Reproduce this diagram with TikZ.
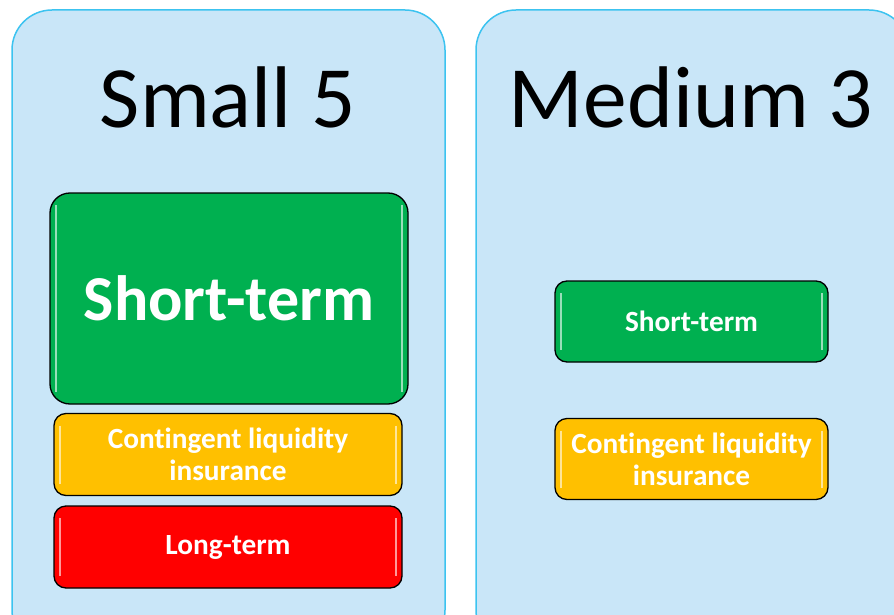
\documentclass[tikz,border=0pt]{standalone}
\usepackage{fontspec}
\setmainfont[Ligatures=CommonOff]{Carlito}
\definecolor{panelfill}{HTML}{C9E6F8}
\definecolor{panelline}{HTML}{3CC3F0}
\definecolor{termgreen}{HTML}{00B050}
\definecolor{termyellow}{HTML}{FFC000}
\definecolor{termred}{HTML}{FF0000}
\tikzset{
  panel/.style={draw=panelline, fill=panelfill, line width=1.5pt, rounded corners=40pt, minimum width=433pt, minimum height=640pt},
  title/.style={anchor=base, font=\fontsize{87.5}{88}\selectfont},
  glossy/.style={draw=black, line width=1.3pt, fill=#1, text=white, align=center, inner sep=0pt, rounded corners=12pt,
    path picture={\draw[white, opacity=0.6, line width=2.5pt]
      ([xshift=6pt,yshift=-12pt]path picture bounding box.north west) -- ([xshift=6pt,yshift=12pt]path picture bounding box.south west)
      ([xshift=-6pt,yshift=-12pt]path picture bounding box.north east) -- ([xshift=-6pt,yshift=12pt]path picture bounding box.south east);}},
  termbox/.style={glossy=#1, minimum width=348pt, minimum height=82pt, font=\bfseries\fontsize{29.3}{32}\selectfont},
  sidebox/.style={glossy=#1, minimum width=273pt, minimum height=81pt, font=\bfseries\fontsize{29.3}{32}\selectfont}
}
\begin{document}
\begin{tikzpicture}[x=1pt, y=-1pt]
\useasboundingbox (0,0) rectangle (894,615);
\clip (0,0) rectangle (894,615);
% the two groups
\node[panel] (small) at (228.5,330) {};
\node[panel] (medium) at (692.5,330) {};
\node[title] (smalltitle) at (228,128) {Small 5};
\node[title] (mediumtitle) at (691,128) {Medium 3};
% small banks
\node[glossy=termgreen, rounded corners=20pt, minimum width=358pt, minimum height=211pt, font=\bfseries\fontsize{64}{64}\selectfont] (smallshort) at (229,298.5) {Short-term};
\node[termbox=termyellow] (smallcli) at (228,454.5) {Contingent liquidity\\insurance};
\node[termbox=termred] (smalllong) at (228,547) {Long-term};
% medium banks
\node[sidebox=termgreen] (mediumshort) at (691.5,321.5) {Short-term};
\node[sidebox=termyellow] (mediumcli) at (691.5,459) {Contingent liquidity\\insurance};
\end{tikzpicture}
\end{document}
